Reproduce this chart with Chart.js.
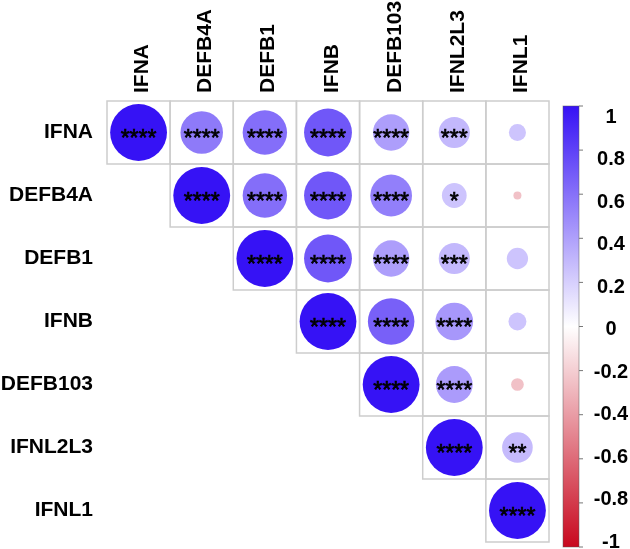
<!DOCTYPE html>
<html>
<head>
<meta charset="utf-8">
<script src="https://cdn.jsdelivr.net/npm/chart.js@4.4.1/dist/chart.umd.min.js"></script>
<style>
  html, body { margin: 0; padding: 0; background: #fff; }
  #wrap { width: 630px; height: 549px; position: relative; }
</style>
</head>
<body>
<div id="wrap"><canvas id="corrChart"></canvas></div>
<script>
const genes = ['IFNA', 'DEFB4A', 'DEFB1', 'IFNB', 'DEFB103', 'IFNL2L3', 'IFNL1'];

// upper triangle, each row starts at the diagonal
const corrIFNA    = [1, 0.56, 0.61, 0.71, 0.41, 0.30, 0.09];
const corrDEFB4A  = [1, 0.61, 0.71, 0.54, 0.19, -0.02];
const corrDEFB1   = [1, 0.71, 0.41, 0.30, 0.14];
const corrIFNB    = [1, 0.67, 0.44, 0.10];
const corrDEFB103 = [1, 0.42, -0.05];
const corrIFNL2L3 = [1, 0.29];
const corrIFNL1   = [1];

const starsIFNA    = ['****', '****', '****', '****', '****', '***', ''];
const starsDEFB4A  = ['****', '****', '****', '****', '*', ''];
const starsDEFB1   = ['****', '****', '****', '***', ''];
const starsIFNB    = ['****', '****', '****', ''];
const starsDEFB103 = ['****', '****', ''];
const starsIFNL2L3 = ['****', '**'];
const starsIFNL1   = ['****'];

const colorbarTicks = [1, 0.8, 0.6, 0.4, 0.2, 0, -0.2, -0.4, -0.6, -0.8, -1];

const corrRows = [corrIFNA, corrDEFB4A, corrDEFB1, corrIFNB, corrDEFB103, corrIFNL2L3, corrIFNL1];
const starRows = [starsIFNA, starsDEFB4A, starsDEFB1, starsIFNB, starsDEFB103, starsIFNL2L3, starsIFNL1];

const points = [];
corrRows.forEach((row, i) => {
    row.forEach((r, k) => {
        points.push({ x: i + k, y: i, r: r, stars: starRows[i][k] });
    });
});

const BLUE = [54, 18, 245];
const RED = [200, 8, 30];

function corrColor(r) {
    const end = r >= 0 ? BLUE : RED;
    const t = Math.max(Math.abs(r), 0.25);
    const c = end.map(v => Math.round(255 + (v - 255) * t));
    return `rgb(${c[0]}, ${c[1]}, ${c[2]})`;
}

function cellSize(chart) {
    const xs = chart.scales.x;
    return Math.abs(xs.getPixelForValue(1) - xs.getPixelForValue(0));
}

function circleRadius(c) {
    return 0.45 * cellSize(c.chart) * Math.sqrt(Math.abs(c.raw.r));
}

const cellGrid = {
    id: 'cellGrid',
    beforeDatasetsDraw(chart) {
        const { ctx, scales: { x, y } } = chart;
        ctx.save();
        ctx.strokeStyle = '#cdcdcd';
        ctx.lineWidth = 1.5;
        corrRows.forEach((row, i) => {
            row.forEach((r, k) => {
                const j = i + k;
                const x0 = x.getPixelForValue(j - 0.5);
                const x1 = x.getPixelForValue(j + 0.5);
                const y0 = y.getPixelForValue(i - 0.5);
                const y1 = y.getPixelForValue(i + 0.5);
                ctx.strokeRect(x0, y0, x1 - x0, y1 - y0);
            });
        });
        ctx.restore();
    }
};

const starLabels = {
    id: 'starLabels',
    afterDatasetsDraw(chart) {
        const { ctx } = chart;
        const meta = chart.getDatasetMeta(0);
        ctx.save();
        ctx.fillStyle = '#000';
        ctx.strokeStyle = '#000';
        ctx.lineWidth = 0.7;
        ctx.font = '23px "Liberation Sans", Arial, sans-serif';
        ctx.textAlign = 'center';
        ctx.textBaseline = 'alphabetic';
        meta.data.forEach((el, idx) => {
            const s = points[idx].stars;
            if (!s) return;
            ctx.fillText(s, el.x, el.y + 13);
            ctx.strokeText(s, el.x, el.y + 13);
        });
        ctx.restore();
    }
};

const colorBar = {
    id: 'colorBar',
    afterDraw(chart) {
        const { ctx } = chart;
        const bx = 563, bw = 16, top = 106, bottom = 547;
        const g = ctx.createLinearGradient(0, top, 0, bottom);
        g.addColorStop(0, `rgb(${BLUE.join(',')})`);
        g.addColorStop(0.5, '#ffffff');
        g.addColorStop(1, `rgb(${RED.join(',')})`);
        ctx.save();
        ctx.fillStyle = g;
        ctx.fillRect(bx, top, bw, bottom - top);
        ctx.strokeStyle = 'rgba(90,90,90,0.6)';
        ctx.lineWidth = 0.8;
        ctx.strokeRect(bx, top, bw, bottom - top);

        ctx.strokeStyle = '#777';
        ctx.lineWidth = 1;
        ctx.fillStyle = '#000';
        ctx.font = 'bold 20px "Liberation Sans", Arial, sans-serif';
        ctx.textAlign = 'center';
        ctx.textBaseline = 'middle';
        colorbarTicks.forEach(v => {
            const ty = top + (1 - v) / 2 * (bottom - top);
            ctx.beginPath();
            ctx.moveTo(bx + bw, ty);
            ctx.lineTo(bx + bw + 4, ty);
            ctx.stroke();
            const ly = 117 + (1 - v) / 2 * (542 - 117);
            ctx.fillText(String(v), 611, ly);
        });
        ctx.restore();
    }
};

const geneTicks = s => { s.ticks = genes.map((g, i) => ({ value: i })); };
const labelFont = { family: '"Liberation Sans", Arial, sans-serif', size: 21, weight: 'bold' };

new Chart(document.getElementById('corrChart'), {
    type: 'scatter',
    data: {
        datasets: [{
            data: points,
            pointRadius: circleRadius,
            pointHoverRadius: circleRadius,
            pointBackgroundColor: c => corrColor(c.raw.r),
            pointBorderWidth: 0
        }]
    },
    options: {
        responsive: true,
        maintainAspectRatio: false,
        animation: false,
        events: [],
        layout: { padding: { left: 0, top: 0, right: 81, bottom: 7 } },
        plugins: {
            legend: { display: false },
            tooltip: { enabled: false }
        },
        scales: {
            x: {
                type: 'linear',
                position: 'top',
                min: -0.5,
                max: 6.5,
                afterBuildTicks: geneTicks,
                afterFit: s => {
                    s.height = 101;
                    s.paddingLeft = 0; s.paddingRight = 0;
                    s.paddingTop = 0; s.paddingBottom = 0;
                },
                grid: { display: false, drawTicks: false },
                border: { display: false },
                ticks: {
                    autoSkip: false,
                    minRotation: 90,
                    maxRotation: 90,
                    padding: 8,
                    labelOffset: 29,
                    color: '#000',
                    font: labelFont,
                    callback: v => genes[v]
                }
            },
            y: {
                type: 'linear',
                reverse: true,
                min: -0.5,
                max: 6.5,
                afterBuildTicks: geneTicks,
                afterFit: s => {
                    s.width = 107;
                    s.paddingLeft = 0; s.paddingRight = 0;
                    s.paddingTop = 0; s.paddingBottom = 0;
                },
                grid: { display: false, drawTicks: false },
                border: { display: false },
                ticks: {
                    autoSkip: false,
                    padding: 14,
                    color: '#000',
                    font: labelFont,
                    callback: v => genes[v]
                }
            }
        }
    },
    plugins: [cellGrid, starLabels, colorBar]
});
</script>
</body>
</html>
